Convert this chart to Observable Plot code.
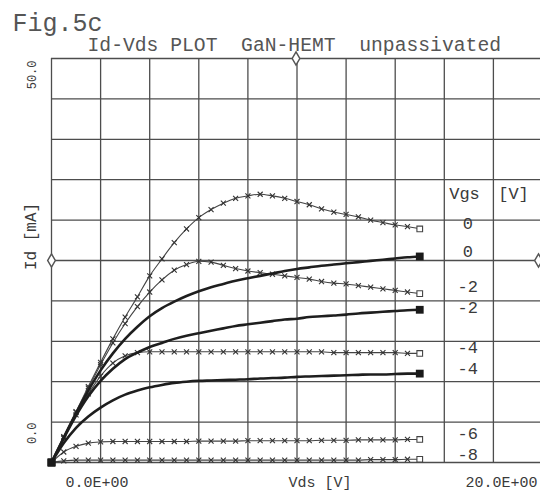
<!DOCTYPE html>
<html><head><meta charset="utf-8">
<script src="https://cdn.jsdelivr.net/npm/d3@7"></script>
<script src="https://cdn.jsdelivr.net/npm/@observablehq/plot@0.6"></script>
<style>
html,body{margin:0;padding:0;background:#fff;}
svg text{white-space:pre;}
</style></head><body><div id="chart"></div>
<script>
// Drain voltage samples [V]
const vds = [0,0.5,1,1.5,2,2.5,3,3.5,4,4.5,5,5.5,6,6.5,7,7.5,8,8.5,9,9.5,10,10.5,11,11.5,12,12.5,13,13.5,14,14.5,15];

// Drain current [mA] per curve
const idCross0 = [0,3.2,6.3,9.4,12.4,15.3,18.0,20.5,23.1,25.2,27.2,28.9,30.3,31.3,32.1,32.7,33.0,33.2,33.0,32.7,32.3,31.9,31.4,31.0,30.7,30.4,30.0,29.7,29.4,29.2,28.9];
const idSolid0 = [0,3.1,6.1,8.9,11.4,13.5,15.3,16.8,18.1,19.1,19.9,20.6,21.2,21.7,22.1,22.5,22.8,23.1,23.4,23.7,23.95,24.15,24.35,24.5,24.65,24.8,24.95,25.1,25.25,25.4,25.5];
const idCross2 = [0,3.1,6.2,9.2,12.1,14.8,17.2,19.3,21.1,22.6,23.8,24.5,24.9,24.8,24.4,24.0,23.7,23.5,23.3,23.1,22.9,22.7,22.4,22.2,22.1,21.9,21.7,21.5,21.3,21.1,20.9];
const idSolid2 = [0,3.0,5.8,8.2,10.1,11.6,12.8,13.6,14.3,14.8,15.3,15.7,16.0,16.3,16.6,16.9,17.1,17.3,17.5,17.7,17.8,18.0,18.1,18.2,18.3,18.45,18.55,18.65,18.75,18.85,18.9];
const idCross4 = [0,3.0,5.9,8.5,10.7,12.3,13.2,13.6,13.7,13.7,13.7,13.7,13.7,13.7,13.7,13.7,13.7,13.7,13.7,13.7,13.7,13.7,13.7,13.6,13.6,13.6,13.6,13.6,13.6,13.5,13.5];
const idSolid4 = [0,2.4,4.3,5.7,6.8,7.7,8.4,8.9,9.3,9.6,9.85,10.0,10.1,10.15,10.2,10.25,10.3,10.4,10.45,10.5,10.6,10.65,10.7,10.75,10.8,10.85,10.9,10.9,10.95,11.0,11.0];
const idCross6 = [0,1.3,2.0,2.4,2.55,2.6,2.6,2.6,2.6,2.6,2.6,2.6,2.65,2.65,2.65,2.65,2.7,2.7,2.7,2.7,2.7,2.7,2.75,2.75,2.75,2.8,2.8,2.8,2.8,2.85,2.85];
const idCross8 = [0,0.2,0.3,0.3,0.3,0.3,0.3,0.3,0.3,0.3,0.3,0.3,0.3,0.3,0.3,0.3,0.3,0.3,0.3,0.3,0.3,0.3,0.3,0.3,0.3,0.3,0.35,0.35,0.35,0.4,0.4];

const seriesCurrents = [idCross0, idSolid0, idCross2, idSolid2, idCross4, idSolid4, idCross6, idCross8];
const seriesVgs = ["0", "0", "-2", "-2", "-4", "-4", "-6", "-8"];
const seriesKind = ["cross", "solid", "cross", "solid", "cross", "solid", "cross", "cross"];

// Axis / grid ticks
const xGrid = [0,2,4,6,8,10,12,14,16,18,20];
const yGrid = [0,5,10,15,20,25,30,35,40,45,50];
const xTickLabels = ["0.0E+00", "20.0E+00"];
const yTickLabels = ["50.0", "0.0"];
const xAxisLabel = "Vds [V]";
const yAxisLabel = "Id [mA]";
const figLabel = "Fig.5c";
const plotTitle = "Id-Vds PLOT  GaN-HEMT  unpassivated";
const legendHeader = ["Vgs", "[V]"];

const rows = seriesCurrents.flatMap((arr, s) =>
  arr.map((id, i) => ({s, i, v: vds[i], id, vgs: seriesVgs[s], kind: seriesKind[s]})));
const cross = rows.filter(d => d.kind === "cross");
const solid = rows.filter(d => d.kind === "solid");
const last = vds.length - 1;

// end-of-curve labels, nudged apart when they would collide
const minGap = 2.6; // mA
const ends = seriesCurrents.map((arr, s) => ({s, v: vds[last], id: arr[last], ly: arr[last], vgs: seriesVgs[s]}))
  .sort((a, b) => b.id - a.id);
for (let k = 1; k < ends.length; k++) {
  const gap = ends[k - 1].ly - ends[k].ly;
  if (gap < minGap) {
    const push = (minGap - gap) / 2;
    ends[k - 1].ly += push;
    ends[k].ly -= push;
  }
}

const font = "Liberation Mono, DejaVu Sans Mono, monospace";
const ink = "#3a3a3a";

const chart = Plot.plot({
  width: 540, height: 492,
  marginTop: 58, marginBottom: 30, marginLeft: 51, marginRight: 0,
  style: {fontFamily: font, background: "#fff", color: "#555"},
  x: {domain: [0, 20], range: [51, 542], axis: null},
  y: {domain: [0, 50], axis: null},
  marks: [
    Plot.ruleX(xGrid, {x: d => d, stroke: "#4d4d4d", strokeWidth: 1.3}),
    Plot.ruleY(yGrid, {y: d => d, stroke: "#4d4d4d", strokeWidth: 1.3}),
    Plot.line(cross, {x: "v", y: "id", z: "s", stroke: "#444", strokeWidth: 1.1, curve: "monotone-x"}),
    Plot.dot(cross.filter(d => d.i > 0 && d.i < last), {x: "v", y: "id", symbol: "times", r: 2.4, stroke: "#333", strokeWidth: 1.1}),
    Plot.line(solid, {x: "v", y: "id", z: "s", stroke: "#1e1e1e", strokeWidth: 2.6, curve: "monotone-x"}),
    Plot.dot(cross, Plot.selectLast({x: "v", y: "id", z: "s", symbol: "square", r: 3.2, fill: "#fff", stroke: "#444", strokeWidth: 1.1})),
    Plot.dot(solid, Plot.selectLast({x: "v", y: "id", z: "s", symbol: "square", r: 4.4, fill: "#1a1a1a"})),
    Plot.dot(solid, Plot.selectFirst({x: "v", y: "id", z: "s", symbol: "square", r: 4.4, fill: "#1a1a1a"})),
    // scale-centre markers on the frame
    Plot.dot([0], {frameAnchor: "top", symbol: "diamond", r: 4, fill: "#fff", stroke: "#555"}),
    Plot.dot([0], {frameAnchor: "left", symbol: "diamond", r: 4, fill: "#fff", stroke: "#555"}),
    Plot.dot([0], {frameAnchor: "right", dx: -2, symbol: "diamond", r: 4, fill: "#fff", stroke: "#555"}),
    // legend labels at curve ends
    Plot.text(ends, {x: "v", y: "ly", text: "vgs", dx: 48, dy: -5, textAnchor: "middle", fontSize: 17, fill: ink}),
    Plot.text([legendHeader[0]], {frameAnchor: "top-right", dx: -76, dy: 140, lineAnchor: "bottom", textAnchor: "middle", fontSize: 17, fill: ink}),
    Plot.text([legendHeader[1]], {frameAnchor: "top-right", dx: -27, dy: 140, lineAnchor: "bottom", textAnchor: "middle", fontSize: 17, fill: ink}),
    // axis texts
    Plot.text([xTickLabels[0]], {frameAnchor: "bottom-left", dx: 14, dy: 20, lineAnchor: "middle", textAnchor: "start", fontSize: 15, fill: ink}),
    Plot.text([xTickLabels[1]], {frameAnchor: "bottom-right", dx: -3, dy: 20, lineAnchor: "middle", textAnchor: "end", fontSize: 15, fill: ink}),
    Plot.text([xAxisLabel], {frameAnchor: "bottom", dx: 24, dy: 20, lineAnchor: "middle", textAnchor: "middle", fontSize: 15, fill: ink}),
    Plot.text([yTickLabels[0]], {frameAnchor: "top-left", dx: -19, dy: 2, rotate: -90, lineAnchor: "middle", textAnchor: "end", fontSize: 12, fill: ink}),
    Plot.text([yTickLabels[1]], {frameAnchor: "bottom-left", dx: -19, dy: -40, rotate: -90, lineAnchor: "middle", textAnchor: "end", fontSize: 12, fill: ink}),
    Plot.text([yAxisLabel], {frameAnchor: "left", dx: -21, dy: -24, rotate: -90, lineAnchor: "middle", textAnchor: "middle", fontSize: 16, fill: ink}),
    // titles
    Plot.text([figLabel], {frameAnchor: "top-left", dx: -39, dy: -28, lineAnchor: "bottom", textAnchor: "start", fontSize: 25, fill: "#555"}),
    Plot.text([plotTitle], {frameAnchor: "top-left", dx: 36, dy: -8, lineAnchor: "bottom", textAnchor: "start", fontSize: 19.7, fill: "#555"})
  ]
});
document.getElementById("chart").appendChild(chart);
</script></body></html>
